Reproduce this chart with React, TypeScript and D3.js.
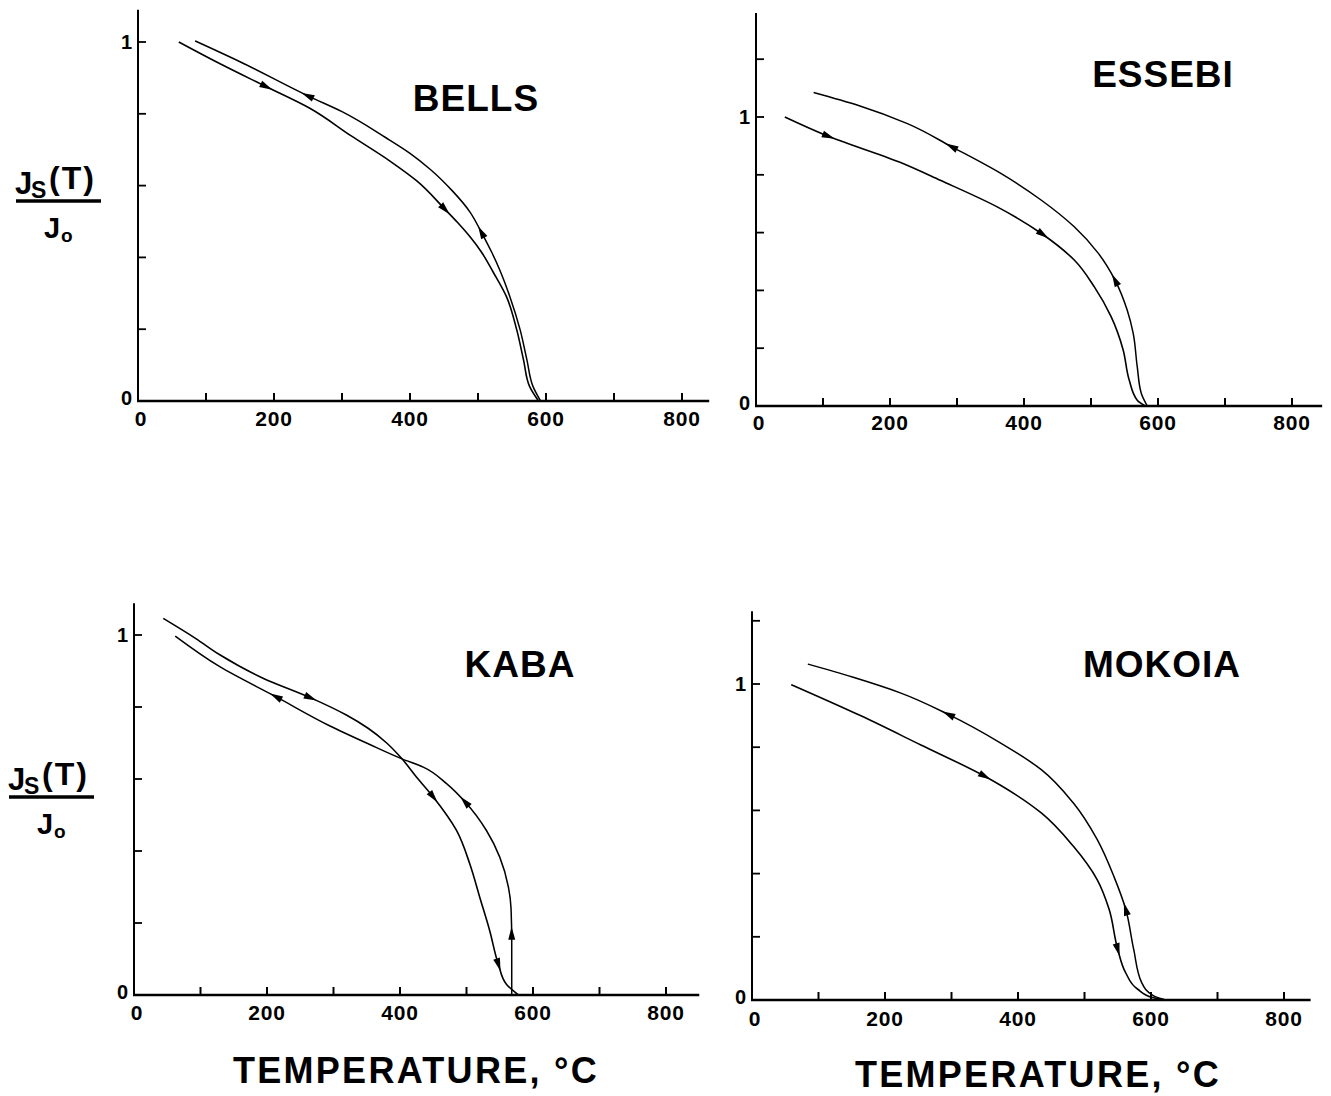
import React, { useEffect, useRef } from 'react';
import * as d3 from 'd3';

// temperature (°C) vs Js(T)/Jo
const bellsHeating: [number, number][] = [
  [60, 1.0], [120, 0.94], [188, 0.876], [252, 0.816], [313, 0.739], [370, 0.669], [410, 0.613],
  [451, 0.535], [470, 0.497], [488, 0.458], [505, 0.415], [522, 0.36], [542, 0.29], [557, 0.198],
  [567, 0.114], [576, 0.04], [589, 0],
];
const bellsCooling: [number, number][] = [
  [84, 1.003], [150, 0.945], [252, 0.848], [300, 0.806], [364, 0.734], [400, 0.69], [430, 0.645],
  [462, 0.586], [488, 0.527], [505, 0.47], [520, 0.415], [532, 0.365], [547, 0.29], [562, 0.198],
  [572, 0.114], [581, 0.04], [592, 0],
];
const essebiHeating: [number, number][] = [
  [43, 1.0], [104, 0.937], [214, 0.844], [275, 0.781], [360, 0.689], [426, 0.597], [475, 0.505],
  [505, 0.412], [530, 0.309], [548, 0.194], [557, 0.09], [569, 0.02], [581, 0],
];
const essebiCooling: [number, number][] = [
  [86, 1.085], [153, 1.04], [226, 0.977], [293, 0.896], [366, 0.804], [426, 0.712], [475, 0.62],
  [511, 0.528], [536, 0.435], [554, 0.332], [563, 0.251], [569, 0.136], [575, 0.044], [584, 0],
];
const kabaHeating: [number, number][] = [
  [44, 1.046], [93, 0.99], [129, 0.945], [194, 0.88], [265, 0.826], [320, 0.777], [352, 0.741],
  [380, 0.7], [403, 0.656], [425, 0.605], [450, 0.55], [485, 0.457], [505, 0.364], [520, 0.271],
  [535, 0.178], [548, 0.085], [560, 0.03], [578, 0],
];
const kabaCooling: [number, number][] = [
  [62, 0.997], [129, 0.912], [214, 0.828], [294, 0.748], [352, 0.698], [403, 0.656], [435, 0.633],
  [470, 0.587], [498, 0.536], [530, 0.457], [550, 0.383], [563, 0.3], [567, 0.24], [568, 0.15],
  [568, 0],
];
const mokoiaHeating: [number, number][] = [
  [59, 0.998], [163, 0.9], [254, 0.807], [350, 0.708], [435, 0.592], [483, 0.487], [519, 0.381],
  [537, 0.287], [550, 0.16], [562, 0.086], [580, 0.034], [604, 0.007], [622, 0],
];
const mokoiaCooling: [number, number][] = [
  [84, 1.063], [151, 1.022], [223, 0.972], [296, 0.903], [374, 0.813], [435, 0.729], [483, 0.624],
  [519, 0.508], [544, 0.392], [562, 0.287], [574, 0.16], [586, 0.055], [604, 0.013], [622, 0],
];

// arrow positions (temperature), heating arrows point forward, cooling backward
const bellsArrows = { heat: [188, 451], cool: [250, 505], coolUp: [] as number[] };
const essebiArrows = { heat: [108, 428], cool: [292, 536], coolUp: [] as number[] };
const kabaArrows = { heat: [265, 450, 548], cool: [214, 498], coolUp: [0.17] };
const mokoiaArrows = { heat: [350, 550], cool: [296, 562], coolUp: [] as number[] };

const xTicks = [0, 100, 200, 300, 400, 500, 600, 700, 800];
const xTickLabels = [0, 200, 400, 600, 800];
const yTickLabels = [0, 1];

const panels = [
  { name: 'BELLS', heat: bellsHeating, cool: bellsCooling, arrows: bellsArrows,
    x0: 138, x800: 682, yZero: 401, yOne: 42, yTop: 1.09, xEnd: 840, title: [476, 111], lab: 426 },
  { name: 'ESSEBI', heat: essebiHeating, cool: essebiCooling, arrows: essebiArrows,
    x0: 756, x800: 1292, yZero: 406, yOne: 117, yTop: 1.36, xEnd: 845, title: [1163, 87], lab: 430 },
  { name: 'KABA', heat: kabaHeating, cool: kabaCooling, arrows: kabaArrows,
    x0: 134, x800: 666, yZero: 995, yOne: 635, yTop: 1.088, xEnd: 850, title: [520, 677], lab: 1020 },
  { name: 'MOKOIA', heat: mokoiaHeating, cool: mokoiaCooling, arrows: mokoiaArrows,
    x0: 752, x800: 1284, yZero: 1000, yOne: 684, yTop: 1.23, xEnd: 840, title: [1162, 677], lab: 1026 },
];

const FONT = '"Liberation Sans", Arial, Helvetica, sans-serif';

function drawArrow(g: any, path: SVGPathElement, target: number, axis: 'x' | 'y', back: boolean) {
  const L = path.getTotalLength();
  let best = 0;
  let bestD = Infinity;
  for (let l = 0; l <= L; l += 0.5) {
    const p = path.getPointAtLength(l);
    const d = Math.abs((axis === 'x' ? p.x : p.y) - target);
    if (d < bestD) { bestD = d; best = l; }
  }
  const p = path.getPointAtLength(best);
  const a = path.getPointAtLength(Math.max(0, best - 3));
  const b = path.getPointAtLength(Math.min(L, best + 3));
  let ang = Math.atan2(b.y - a.y, b.x - a.x);
  if (back) ang += Math.PI;
  const ux = Math.cos(ang), uy = Math.sin(ang);
  const nx = -uy, ny = ux;
  const tip = [p.x + ux * 7, p.y + uy * 7];
  const bl = [p.x - ux * 6 + nx * 3.5, p.y - uy * 6 + ny * 3.5];
  const br = [p.x - ux * 6 - nx * 3.5, p.y - uy * 6 - ny * 3.5];
  g.append('polygon')
    .attr('points', [tip, bl, br].map(q => q.join(',')).join(' '))
    .attr('fill', '#000');
}

export default function App() {
  const ref = useRef<SVGSVGElement>(null);

  useEffect(() => {
    document.body.style.margin = '0';
    const svg = d3.select(ref.current);
    svg.selectAll('*').remove();

    panels.forEach(pn => {
      const x = d3.scaleLinear().domain([0, 800]).range([pn.x0, pn.x800]);
      const y = d3.scaleLinear().domain([0, 1]).range([pn.yZero, pn.yOne]);
      const g = svg.append('g');

      // axes
      g.append('line')
        .attr('x1', x(0)).attr('x2', x(0)).attr('y1', y(0)).attr('y2', y(pn.yTop))
        .attr('stroke', '#000').attr('stroke-width', 2);
      g.append('line')
        .attr('x1', x(0) - 1).attr('x2', x(pn.xEnd)).attr('y1', y(0)).attr('y2', y(0))
        .attr('stroke', '#000').attr('stroke-width', 2.4);

      g.selectAll('line.xt').data(xTicks.slice(1)).enter().append('line')
        .attr('class', 'xt')
        .attr('x1', d => x(d)).attr('x2', d => x(d))
        .attr('y1', y(0)).attr('y2', y(0) - 8)
        .attr('stroke', '#000').attr('stroke-width', 2);

      const yTicks = d3.range(0.2, pn.yTop, 0.2).filter(v => v < pn.yTop - 0.02);
      g.selectAll('line.yt').data(yTicks).enter().append('line')
        .attr('class', 'yt')
        .attr('x1', x(0)).attr('x2', x(0) + 8)
        .attr('y1', d => y(d)).attr('y2', d => y(d))
        .attr('stroke', '#000').attr('stroke-width', 1.8);

      g.selectAll('text.xl').data(xTickLabels).enter().append('text')
        .attr('class', 'xl')
        .attr('x', d => x(d) + (d === 0 ? 3 : 0)).attr('y', pn.lab)
        .attr('text-anchor', 'middle')
        .style('font-family', FONT).style('font-weight', 'bold').style('font-size', '21px')
        .style('letter-spacing', '0.8px')
        .text(d => d);

      g.selectAll('text.yl').data(yTickLabels).enter().append('text')
        .attr('class', 'yl')
        .attr('x', x(0) - 6).attr('y', d => y(d) + (d === 0 ? 4 : 7))
        .attr('text-anchor', 'end')
        .style('font-family', FONT).style('font-weight', 'bold').style('font-size', '20px')
        .text(d => d);

      // title
      g.append('text')
        .attr('x', pn.title[0]).attr('y', pn.title[1])
        .attr('text-anchor', 'middle')
        .style('font-family', FONT).style('font-weight', 'bold').style('font-size', '37px')
        .style('letter-spacing', '1px')
        .text(pn.name);

      // curves (monotone along the vertical: every branch falls steadily)
      const line = d3.line<[number, number]>()
        .x(d => x(d[0])).y(d => y(d[1]))
        .curve(d3.curveMonotoneY);

      const heatPath = g.append('path')
        .attr('d', line(pn.heat))
        .attr('fill', 'none').attr('stroke', '#000').attr('stroke-width', 1.6);
      const coolPath = g.append('path')
        .attr('d', line(pn.cool))
        .attr('fill', 'none').attr('stroke', '#000').attr('stroke-width', 1.5);

      pn.arrows.heat.forEach(t => drawArrow(g, heatPath.node() as SVGPathElement, x(t), 'x', false));
      pn.arrows.cool.forEach(t => drawArrow(g, coolPath.node() as SVGPathElement, x(t), 'x', true));
      pn.arrows.coolUp.forEach(v => drawArrow(g, coolPath.node() as SVGPathElement, y(v), 'y', true));
    });

    // y axis label Js(T)/Jo, on the left panels
    [[0, 0], [-7, 596]].forEach(([dx, dy]) => {
      const g = svg.append('g').attr('transform', `translate(${dx},${dy})`);
      const t = g.append('text')
        .style('font-family', FONT).style('font-weight', 'bold');
      t.append('tspan').attr('x', 15).attr('y', 194).style('font-size', '31px').text('J');
      t.append('tspan').attr('x', 31).attr('y', 198).style('font-size', '23px').text('S');
      t.append('tspan').attr('x', 49).attr('y', 189).style('font-size', '32px')
        .style('letter-spacing', '2px').text('(T)');
      g.append('line')
        .attr('x1', 16).attr('x2', 101).attr('y1', 201).attr('y2', 201)
        .attr('stroke', '#000').attr('stroke-width', 3.5);
      const b = g.append('text')
        .style('font-family', FONT).style('font-weight', 'bold');
      b.append('tspan').attr('x', 44).attr('y', 238).style('font-size', '29px').text('J');
      b.append('tspan').attr('x', 61).attr('y', 242).style('font-size', '19px').text('o');
    });

    // x axis titles
    [[416, 1083], [1038, 1087]].forEach(([cx, by]) => {
      svg.append('text')
        .attr('x', cx).attr('y', by)
        .attr('text-anchor', 'middle')
        .style('font-family', FONT).style('font-weight', 'bold').style('font-size', '36px')
        .style('letter-spacing', '2.3px')
        .text('TEMPERATURE,  °C');
    });
  }, []);

  return <svg ref={ref} width={1331} height={1096} style={{ display: 'block', background: '#fff' }} />;
}
